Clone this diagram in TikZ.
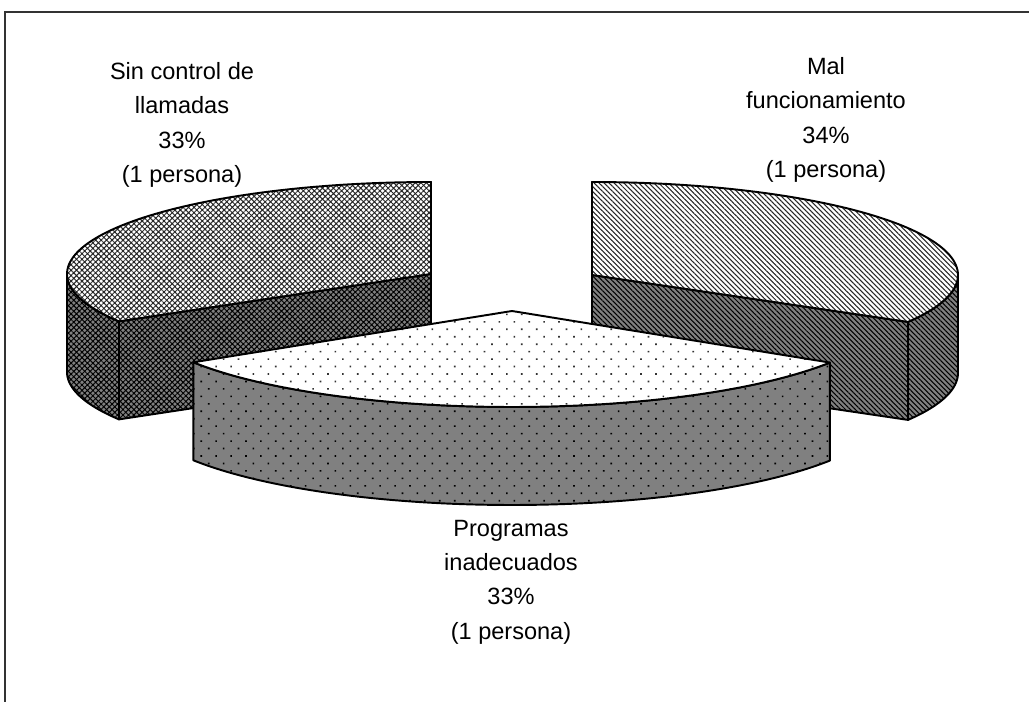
\documentclass[tikz,border=0pt]{standalone}
\usepackage{fontspec}
\setmainfont{Liberation Sans}
\usetikzlibrary{patterns.meta}
\definecolor{sidegray}{gray}{0.5}
\begin{document}
\begin{tikzpicture}[x=0.02cm,y=-0.02cm,
  rim/.style={draw=black,line width=1.1pt,line join=round},
  crossTop/.style={rim,preaction={fill=white},pattern={Hatch[angle=45,distance=2.2pt,line width=0.55pt]},pattern color=black!85},
  crossSide/.style={rim,preaction={fill=sidegray},pattern={Hatch[angle=45,distance=2.2pt,line width=0.55pt]},pattern color=black},
  lineTop/.style={rim,preaction={fill=white},pattern={Lines[angle=-45,distance=2pt,line width=0.6pt]},pattern color=black!85},
  lineSide/.style={rim,preaction={fill=sidegray},pattern={Lines[angle=-45,distance=2pt,line width=0.6pt]},pattern color=black},
  dotTop/.style={rim,preaction={fill=white},pattern={Dots[angle=45,distance=6pt,radius=0.65pt]},pattern color=black!80},
  dotSide/.style={rim,preaction={fill=sidegray},pattern={Dots[angle=45,distance=6pt,radius=0.65pt]},pattern color=black},
  pielabel/.style={align=center,inner sep=0pt,font=\fontsize{13.4}{19.5}\selectfont}]
\useasboundingbox (0,0) rectangle (1029,702);

% chart frame
\draw[line width=0.7pt,black!80] (1029,12) -- (5,12) -- (5,702);

% left slice: centre (431,274), radii 364 x 92, depth 98
\path[crossSide] (431,274) -- ({431+364*cos(149)},{274+92*sin(149)})
  -- ({431+364*cos(149)},{372+92*sin(149)}) -- (431,372) -- cycle;
\path[crossSide] plot[domain=149:180,samples=30,variable=\t] ({431+364*cos(\t)},{274+92*sin(\t)})
  -- plot[domain=180:149,samples=30,variable=\t] ({431+364*cos(\t)},{372+92*sin(\t)}) -- cycle;
\path[crossTop] (431,274) -- plot[domain=270:149,samples=80,variable=\t] ({431+364*cos(\t)},{274+92*sin(\t)}) -- cycle;

% right slice: centre (592,275), radii 366 x 93, depth 98
\path[lineSide] (592,275) -- ({592+366*cos(30.3)},{275+93*sin(30.3)})
  -- ({592+366*cos(30.3)},{373+93*sin(30.3)}) -- (592,373) -- cycle;
\path[lineSide] plot[domain=0:30.3,samples=30,variable=\t] ({592+366*cos(\t)},{275+93*sin(\t)})
  -- plot[domain=30.3:0,samples=30,variable=\t] ({592+366*cos(\t)},{373+93*sin(\t)}) -- cycle;
\path[lineTop] (592,275) -- plot[domain=-90:30.3,samples=80,variable=\t] ({592+366*cos(\t)},{275+93*sin(\t)}) -- cycle;

% front slice: centre (512,311), radii 377 x 96, depth 98
\path[dotSide] plot[domain=32.5:147.7,samples=80,variable=\t] ({512+377*cos(\t)},{311+96*sin(\t)})
  -- plot[domain=147.7:32.5,samples=80,variable=\t] ({512+377*cos(\t)},{409+96*sin(\t)}) -- cycle;
\path[dotTop] (512,311) -- plot[domain=32.5:147.7,samples=80,variable=\t] ({512+377*cos(\t)},{311+96*sin(\t)}) -- cycle;

% data labels
\node[pielabel] (lblLeft) at (182,125) {Sin control de\\llamadas\\33\%\\(1 persona)};
\node[pielabel] (lblRight) at (826,120) {Mal\\funcionamiento\\34\%\\(1 persona)};
\node[pielabel] (lblFront) at (511,582) {Programas\\inadecuados\\33\%\\(1 persona)};
\end{tikzpicture}
\end{document}
